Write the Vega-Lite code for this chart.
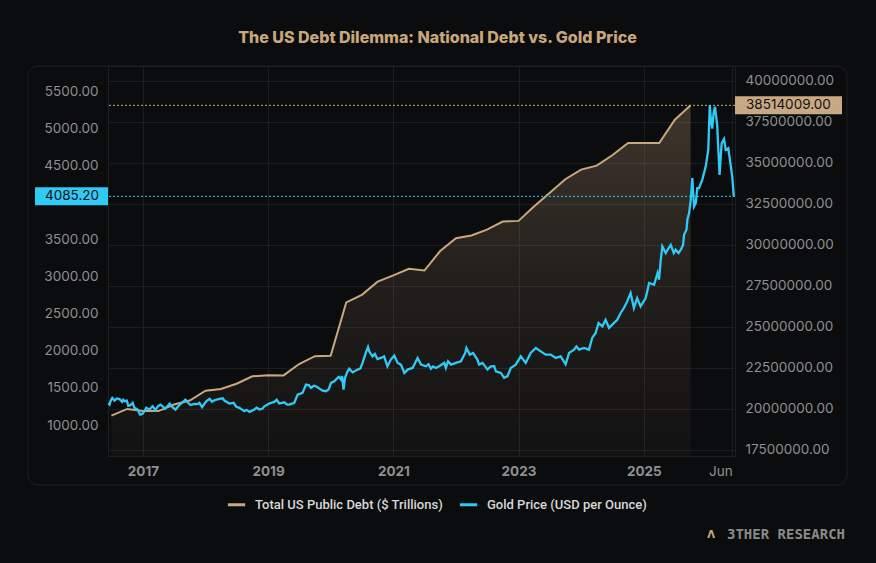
{
  "$schema": "https://vega.github.io/schema/vega-lite/v6.json",
  "description": "US total public debt (quarterly) against the gold price, dual axis.",
  "width": 627,
  "height": 390,
  "autosize": {"type": "none"},
  "padding": {"left": 108, "top": 66, "right": 141, "bottom": 107},
  "background": "#0b0c0e",
  "title": {
    "text": "The US Debt Dilemma: National Debt vs. Gold Price",
    "anchor": "middle",
    "frame": "group",
    "dx": 16,
    "offset": 7,
    "baseline": "alphabetic",
    "color": "#c9a77c",
    "font": "Inter",
    "fontSize": 16,
    "fontWeight": 800
  },
  "config": {
    "view": {"stroke": "#1e1f23"},
    "axis": {
      "labelColor": "#8f8f8f",
      "labelFont": "Inter",
      "labelFontSize": 13.5,
      "ticks": false,
      "domain": false,
      "title": null,
      "gridColor": "#1c1d21",
      "labelOverlap": false
    }
  },
  "datasets": {
    "debt": [
      {"date": "2016-07-01", "debt": 19573445},
      {"date": "2016-10-01", "debt": 19976827},
      {"date": "2017-01-01", "debt": 19846420},
      {"date": "2017-04-01", "debt": 19844554},
      {"date": "2017-07-01", "debt": 20244900},
      {"date": "2017-10-01", "debt": 20492874},
      {"date": "2018-01-01", "debt": 21089643},
      {"date": "2018-04-01", "debt": 21195070},
      {"date": "2018-07-01", "debt": 21516058},
      {"date": "2018-10-01", "debt": 21974096},
      {"date": "2019-01-01", "debt": 22027880},
      {"date": "2019-04-01", "debt": 22023252},
      {"date": "2019-07-01", "debt": 22719402},
      {"date": "2019-10-01", "debt": 23201380},
      {"date": "2020-01-01", "debt": 23223813},
      {"date": "2020-04-01", "debt": 26477201},
      {"date": "2020-07-01", "debt": 26945391},
      {"date": "2020-10-01", "debt": 27747798},
      {"date": "2021-01-01", "debt": 28132570},
      {"date": "2021-04-01", "debt": 28529436},
      {"date": "2021-07-01", "debt": 28428919},
      {"date": "2021-10-01", "debt": 29617215},
      {"date": "2022-01-01", "debt": 30400960},
      {"date": "2022-04-01", "debt": 30568582},
      {"date": "2022-07-01", "debt": 30928912},
      {"date": "2022-10-01", "debt": 31419689},
      {"date": "2023-01-01", "debt": 31458438},
      {"date": "2023-04-01", "debt": 32332274},
      {"date": "2023-07-01", "debt": 33167334},
      {"date": "2023-10-01", "debt": 34001494},
      {"date": "2024-01-01", "debt": 34586535},
      {"date": "2024-04-01", "debt": 34831634},
      {"date": "2024-07-01", "debt": 35464674},
      {"date": "2024-10-01", "debt": 36218605},
      {"date": "2025-01-01", "debt": 36214310},
      {"date": "2025-04-01", "debt": 36211469},
      {"date": "2025-07-01", "debt": 37637553},
      {"date": "2025-10-01", "debt": 38514009}
    ],
    "gold": [
      {"date": "2016-06-12", "gold": 1290},
      {"date": "2016-06-20", "gold": 1276},
      {"date": "2016-06-27", "gold": 1330},
      {"date": "2016-07-06", "gold": 1366},
      {"date": "2016-07-19", "gold": 1330},
      {"date": "2016-08-02", "gold": 1358},
      {"date": "2016-08-17", "gold": 1350},
      {"date": "2016-09-01", "gold": 1312},
      {"date": "2016-09-08", "gold": 1340},
      {"date": "2016-09-15", "gold": 1321},
      {"date": "2016-09-29", "gold": 1330},
      {"date": "2016-10-07", "gold": 1260},
      {"date": "2016-10-20", "gold": 1268},
      {"date": "2016-11-02", "gold": 1299},
      {"date": "2016-11-12", "gold": 1232},
      {"date": "2016-12-01", "gold": 1209},
      {"date": "2016-12-15", "gold": 1141},
      {"date": "2016-12-28", "gold": 1150},
      {"date": "2017-01-10", "gold": 1186},
      {"date": "2017-01-20", "gold": 1232},
      {"date": "2017-02-08", "gold": 1209},
      {"date": "2017-02-27", "gold": 1253},
      {"date": "2017-03-15", "gold": 1200},
      {"date": "2017-03-28", "gold": 1250},
      {"date": "2017-04-12", "gold": 1276},
      {"date": "2017-04-26", "gold": 1253},
      {"date": "2017-05-09", "gold": 1220},
      {"date": "2017-05-30", "gold": 1270},
      {"date": "2017-06-06", "gold": 1290},
      {"date": "2017-06-20", "gold": 1245},
      {"date": "2017-07-10", "gold": 1208},
      {"date": "2017-07-25", "gold": 1250},
      {"date": "2017-08-11", "gold": 1290},
      {"date": "2017-09-06", "gold": 1343},
      {"date": "2017-09-21", "gold": 1300},
      {"date": "2017-10-05", "gold": 1270},
      {"date": "2017-10-28", "gold": 1286},
      {"date": "2017-11-15", "gold": 1282},
      {"date": "2017-11-26", "gold": 1299},
      {"date": "2017-12-12", "gold": 1240},
      {"date": "2018-01-05", "gold": 1321},
      {"date": "2018-01-25", "gold": 1355},
      {"date": "2018-02-08", "gold": 1315},
      {"date": "2018-02-22", "gold": 1334},
      {"date": "2018-03-23", "gold": 1353},
      {"date": "2018-04-11", "gold": 1360},
      {"date": "2018-04-21", "gold": 1330},
      {"date": "2018-05-20", "gold": 1290},
      {"date": "2018-06-14", "gold": 1300},
      {"date": "2018-06-28", "gold": 1250},
      {"date": "2018-07-17", "gold": 1232},
      {"date": "2018-08-15", "gold": 1186},
      {"date": "2018-08-28", "gold": 1205},
      {"date": "2018-09-14", "gold": 1178},
      {"date": "2018-10-13", "gold": 1209},
      {"date": "2018-10-26", "gold": 1235},
      {"date": "2018-11-11", "gold": 1209},
      {"date": "2018-11-30", "gold": 1222},
      {"date": "2018-12-10", "gold": 1253},
      {"date": "2019-01-08", "gold": 1290},
      {"date": "2019-02-06", "gold": 1312},
      {"date": "2019-02-20", "gold": 1340},
      {"date": "2019-03-07", "gold": 1290},
      {"date": "2019-04-05", "gold": 1307},
      {"date": "2019-04-23", "gold": 1275},
      {"date": "2019-05-04", "gold": 1276},
      {"date": "2019-06-03", "gold": 1299},
      {"date": "2019-06-22", "gold": 1411},
      {"date": "2019-07-21", "gold": 1434},
      {"date": "2019-08-10", "gold": 1546},
      {"date": "2019-08-28", "gold": 1535},
      {"date": "2019-09-08", "gold": 1501},
      {"date": "2019-09-25", "gold": 1530},
      {"date": "2019-10-07", "gold": 1523},
      {"date": "2019-11-05", "gold": 1478},
      {"date": "2019-11-15", "gold": 1465},
      {"date": "2019-12-04", "gold": 1455},
      {"date": "2019-12-20", "gold": 1480},
      {"date": "2020-01-03", "gold": 1568},
      {"date": "2020-01-22", "gold": 1590},
      {"date": "2020-02-10", "gold": 1636},
      {"date": "2020-02-19", "gold": 1650},
      {"date": "2020-03-01", "gold": 1613},
      {"date": "2020-03-08", "gold": 1660},
      {"date": "2020-03-16", "gold": 1478},
      {"date": "2020-03-25", "gold": 1640},
      {"date": "2020-04-09", "gold": 1725},
      {"date": "2020-04-18", "gold": 1760},
      {"date": "2020-05-08", "gold": 1710},
      {"date": "2020-06-06", "gold": 1748},
      {"date": "2020-06-22", "gold": 1760},
      {"date": "2020-07-05", "gold": 1838},
      {"date": "2020-07-24", "gold": 1973},
      {"date": "2020-08-06", "gold": 2054},
      {"date": "2020-08-13", "gold": 1994},
      {"date": "2020-09-01", "gold": 1927},
      {"date": "2020-09-15", "gold": 1960},
      {"date": "2020-09-30", "gold": 1890},
      {"date": "2020-10-20", "gold": 1905},
      {"date": "2020-11-08", "gold": 1927},
      {"date": "2020-11-27", "gold": 1792},
      {"date": "2020-12-17", "gold": 1883},
      {"date": "2021-01-06", "gold": 1936},
      {"date": "2021-01-26", "gold": 1838},
      {"date": "2021-02-14", "gold": 1815},
      {"date": "2021-03-06", "gold": 1703},
      {"date": "2021-03-25", "gold": 1748},
      {"date": "2021-04-23", "gold": 1770},
      {"date": "2021-05-22", "gold": 1905},
      {"date": "2021-06-11", "gold": 1815},
      {"date": "2021-07-10", "gold": 1792},
      {"date": "2021-07-25", "gold": 1820},
      {"date": "2021-08-08", "gold": 1760},
      {"date": "2021-08-20", "gold": 1790},
      {"date": "2021-09-06", "gold": 1770},
      {"date": "2021-09-25", "gold": 1792},
      {"date": "2021-10-25", "gold": 1838},
      {"date": "2021-11-03", "gold": 1770},
      {"date": "2021-11-16", "gold": 1860},
      {"date": "2021-12-03", "gold": 1815},
      {"date": "2022-01-01", "gold": 1838},
      {"date": "2022-01-30", "gold": 1860},
      {"date": "2022-02-24", "gold": 1973},
      {"date": "2022-03-03", "gold": 2040},
      {"date": "2022-03-23", "gold": 1950},
      {"date": "2022-04-11", "gold": 1973},
      {"date": "2022-05-06", "gold": 1883},
      {"date": "2022-05-16", "gold": 1815},
      {"date": "2022-06-05", "gold": 1838},
      {"date": "2022-07-04", "gold": 1748},
      {"date": "2022-07-23", "gold": 1792},
      {"date": "2022-08-12", "gold": 1795},
      {"date": "2022-08-22", "gold": 1725},
      {"date": "2022-09-20", "gold": 1703},
      {"date": "2022-10-09", "gold": 1636},
      {"date": "2022-10-28", "gold": 1657},
      {"date": "2022-11-17", "gold": 1770},
      {"date": "2022-12-16", "gold": 1815},
      {"date": "2023-01-14", "gold": 1927},
      {"date": "2023-02-12", "gold": 1838},
      {"date": "2023-03-13", "gold": 1973},
      {"date": "2023-04-12", "gold": 2040},
      {"date": "2023-05-11", "gold": 1994},
      {"date": "2023-06-09", "gold": 1950},
      {"date": "2023-07-08", "gold": 1950},
      {"date": "2023-08-06", "gold": 1905},
      {"date": "2023-09-04", "gold": 1927},
      {"date": "2023-10-03", "gold": 1820},
      {"date": "2023-10-23", "gold": 1973},
      {"date": "2023-11-21", "gold": 2017},
      {"date": "2023-12-05", "gold": 2062},
      {"date": "2023-12-20", "gold": 2017},
      {"date": "2024-01-18", "gold": 2040},
      {"date": "2024-02-16", "gold": 2017},
      {"date": "2024-03-06", "gold": 2175},
      {"date": "2024-03-26", "gold": 2242},
      {"date": "2024-04-12", "gold": 2377},
      {"date": "2024-05-04", "gold": 2331},
      {"date": "2024-05-23", "gold": 2421},
      {"date": "2024-06-12", "gold": 2310},
      {"date": "2024-07-01", "gold": 2354},
      {"date": "2024-07-30", "gold": 2421},
      {"date": "2024-08-19", "gold": 2512},
      {"date": "2024-09-07", "gold": 2579},
      {"date": "2024-09-26", "gold": 2668},
      {"date": "2024-10-16", "gold": 2781},
      {"date": "2024-11-04", "gold": 2579},
      {"date": "2024-11-23", "gold": 2714},
      {"date": "2024-12-13", "gold": 2601},
      {"date": "2025-01-12", "gold": 2714},
      {"date": "2025-02-01", "gold": 2916},
      {"date": "2025-03-02", "gold": 2893},
      {"date": "2025-03-22", "gold": 3051},
      {"date": "2025-03-31", "gold": 2960},
      {"date": "2025-04-10", "gold": 3230},
      {"date": "2025-04-19", "gold": 3409},
      {"date": "2025-05-09", "gold": 3320},
      {"date": "2025-05-20", "gold": 3365},
      {"date": "2025-06-07", "gold": 3432},
      {"date": "2025-06-25", "gold": 3320},
      {"date": "2025-07-06", "gold": 3365},
      {"date": "2025-07-22", "gold": 3320},
      {"date": "2025-08-05", "gold": 3365},
      {"date": "2025-08-18", "gold": 3430},
      {"date": "2025-08-24", "gold": 3570},
      {"date": "2025-09-07", "gold": 3634},
      {"date": "2025-09-12", "gold": 3769},
      {"date": "2025-09-22", "gold": 3859},
      {"date": "2025-10-02", "gold": 4038},
      {"date": "2025-10-11", "gold": 4331},
      {"date": "2025-10-21", "gold": 3948},
      {"date": "2025-10-31", "gold": 3994},
      {"date": "2025-11-09", "gold": 4196},
      {"date": "2025-11-19", "gold": 4196},
      {"date": "2025-12-08", "gold": 4308},
      {"date": "2025-12-28", "gold": 4487},
      {"date": "2026-01-06", "gold": 4622},
      {"date": "2026-01-12", "gold": 4712},
      {"date": "2026-01-21", "gold": 5318},
      {"date": "2026-01-28", "gold": 5100},
      {"date": "2026-02-04", "gold": 5000},
      {"date": "2026-02-12", "gold": 5207},
      {"date": "2026-02-20", "gold": 5296},
      {"date": "2026-03-05", "gold": 5050},
      {"date": "2026-03-19", "gold": 4375},
      {"date": "2026-03-31", "gold": 4802},
      {"date": "2026-04-14", "gold": 4860},
      {"date": "2026-04-24", "gold": 4712},
      {"date": "2026-05-09", "gold": 4735},
      {"date": "2026-05-23", "gold": 4500},
      {"date": "2026-06-01", "gold": 4352},
      {"date": "2026-06-10", "gold": 4085.2}
    ]
  },
  "layer": [
    {
      "layer": [
        {
          "data": {"name": "debt"},
          "mark": {
            "type": "area",
            "color": {
              "gradient": "linear",
              "x1": 0, "y1": 0, "x2": 0, "y2": 1,
              "stops": [
                {"offset": 0, "color": "rgba(201,168,124,0.27)"},
                {"offset": 0.5, "color": "rgba(201,168,124,0.12)"},
                {"offset": 1, "color": "rgba(201,168,124,0.04)"}
              ]
            }
          },
          "encoding": {
            "x": {
              "field": "date",
              "type": "temporal",
              "scale": {"domain": [{"year": 2016, "month": 6, "date": 11}, {"year": 2026, "month": 6, "date": 17}]},
              "axis": {
                "values": [
                  {"year": 2017, "month": 1, "date": 1},
                  {"year": 2019, "month": 1, "date": 1},
                  {"year": 2021, "month": 1, "date": 1},
                  {"year": 2023, "month": 1, "date": 1},
                  {"year": 2025, "month": 1, "date": 1},
                  {"year": 2026, "month": 6, "date": 1}
                ],
                "labelExpr": "month(datum.value) == 0 ? timeFormat(datum.value, '%Y') : timeFormat(datum.value, '%b')",
                "labelFontWeight": {"condition": {"test": "month(datum.value) == 0", "value": "bold"}, "value": "normal"},
                "labelAlign": {"condition": {"test": "month(datum.value) != 0", "value": "right"}, "value": "center"},
                "labelPadding": 8,
                "grid": true
              }
            },
            "y": {
              "field": "debt",
              "type": "quantitative",
              "scale": {"domain": [17104000, 40915000], "nice": false, "zero": false},
              "axis": {
                "orient": "right",
                "values": [17500000, 20000000, 22500000, 25000000, 27500000, 30000000, 32500000, 35000000, 37500000, 40000000],
                "format": ".2f",
                "labelPadding": 10,
                "grid": true
              }
            },
            "y2": {"datum": 17104000}
          }
        },
        {
          "data": {"name": "debt"},
          "mark": {"type": "line", "strokeWidth": 2},
          "encoding": {
            "x": {"field": "date", "type": "temporal"},
            "y": {"field": "debt", "type": "quantitative"},
            "color": {
              "datum": "Total US Public Debt ($ Trillions)",
              "type": "nominal",
              "scale": {
                "domain": ["Total US Public Debt ($ Trillions)", "Gold Price (USD per Ounce)"],
                "range": ["#c9a87c", "#31c9f6"]
              },
              "legend": {
                "orient": "none",
                "legendX": 118,
                "legendY": 428,
                "direction": "horizontal",
                "title": null,
                "symbolType": "stroke",
                "symbolStrokeWidth": 3,
                "symbolSize": 300,
                "labelColor": "#d8d8d8",
                "labelFont": "Roboto",
                "labelFontSize": 13,
                "labelFontWeight": 500,
                "labelOffset": 8,
                "columnPadding": 10,
                "labelLimit": 300
              }
            }
          }
        },
        {
          "data": {"values": [{"last": 38514009}]},
          "mark": {"type": "rule", "color": "#c9a87c", "strokeWidth": 1, "strokeDash": [2, 2]},
          "encoding": {"y": {"field": "last", "type": "quantitative"}}
        },
        {
          "data": {"values": [{"last": 38514009}]},
          "mark": {"type": "rect", "color": "#c8a983", "height": 18},
          "encoding": {
            "x": {"value": 627},
            "x2": {"value": 734},
            "y": {"field": "last", "type": "quantitative"}
          }
        },
        {
          "data": {"values": [{"last": 38514009}]},
          "mark": {"type": "text", "align": "left", "baseline": "middle", "dx": 11, "color": "#111111", "font": "Inter", "fontSize": 13.5},
          "encoding": {
            "x": {"value": 627},
            "y": {"field": "last", "type": "quantitative"},
            "text": {"field": "last", "type": "quantitative", "format": ".2f"}
          }
        }
      ]
    },
    {
      "layer": [
        {
          "data": {"name": "gold"},
          "mark": {"type": "line", "strokeWidth": 2.3},
          "encoding": {
            "x": {"field": "date", "type": "temporal"},
            "y": {
              "field": "gold",
              "type": "quantitative",
              "scale": {"domain": [582, 5844], "nice": false, "zero": false},
              "axis": {
                "orient": "left",
                "values": [1000, 1500, 2000, 2500, 3000, 3500, 4500, 5000, 5500],
                "format": ".2f",
                "labelPadding": 10,
                "grid": false
              }
            },
            "color": {"datum": "Gold Price (USD per Ounce)", "type": "nominal"}
          }
        },
        {
          "data": {"values": [{"last": 4085.2}]},
          "mark": {"type": "rule", "color": "#31c9f6", "strokeWidth": 1, "strokeDash": [2, 2]},
          "encoding": {"y": {"field": "last", "type": "quantitative"}}
        },
        {
          "data": {"values": [{"last": 4085.2}]},
          "mark": {"type": "rect", "color": "#31c9f6", "height": 18},
          "encoding": {
            "x": {"value": -73},
            "x2": {"value": 0},
            "y": {"field": "last", "type": "quantitative"}
          }
        },
        {
          "data": {"values": [{"last": 4085.2}]},
          "mark": {"type": "text", "align": "center", "baseline": "middle", "dx": -36, "color": "#111111", "font": "Inter", "fontSize": 13.5},
          "encoding": {
            "x": {"value": 0},
            "y": {"field": "last", "type": "quantitative"},
            "text": {"field": "last", "type": "quantitative", "format": ".2f"}
          }
        }
      ]
    },
    {
      "data": {"values": [{}]},
      "mark": {"type": "rect", "fill": null, "stroke": "#1e1f23", "strokeWidth": 1, "cornerRadius": 10},
      "encoding": {
        "x": {"value": -80},
        "x2": {"value": 739},
        "y": {"value": 0},
        "y2": {"value": 419}
      }
    },
    {
      "data": {"values": [{}]},
      "mark": {"type": "text", "text": "3THER RESEARCH", "align": "right", "baseline": "middle", "font": "DejaVu Sans Mono", "fontSize": 14, "fontWeight": "bold", "color": "#8a8a8a"},
      "encoding": {"x": {"value": 737}, "y": {"value": 469}}
    },
    {
      "data": {"values": [{}]},
      "mark": {"type": "text", "text": "Λ", "align": "center", "baseline": "middle", "font": "DejaVu Sans", "fontSize": 10, "fontWeight": "bold", "color": "#c9a87c"},
      "encoding": {"x": {"value": 603}, "y": {"value": 469}}
    }
  ],
  "resolve": {"scale": {"y": "independent"}, "axis": {"y": "independent"}}
}
